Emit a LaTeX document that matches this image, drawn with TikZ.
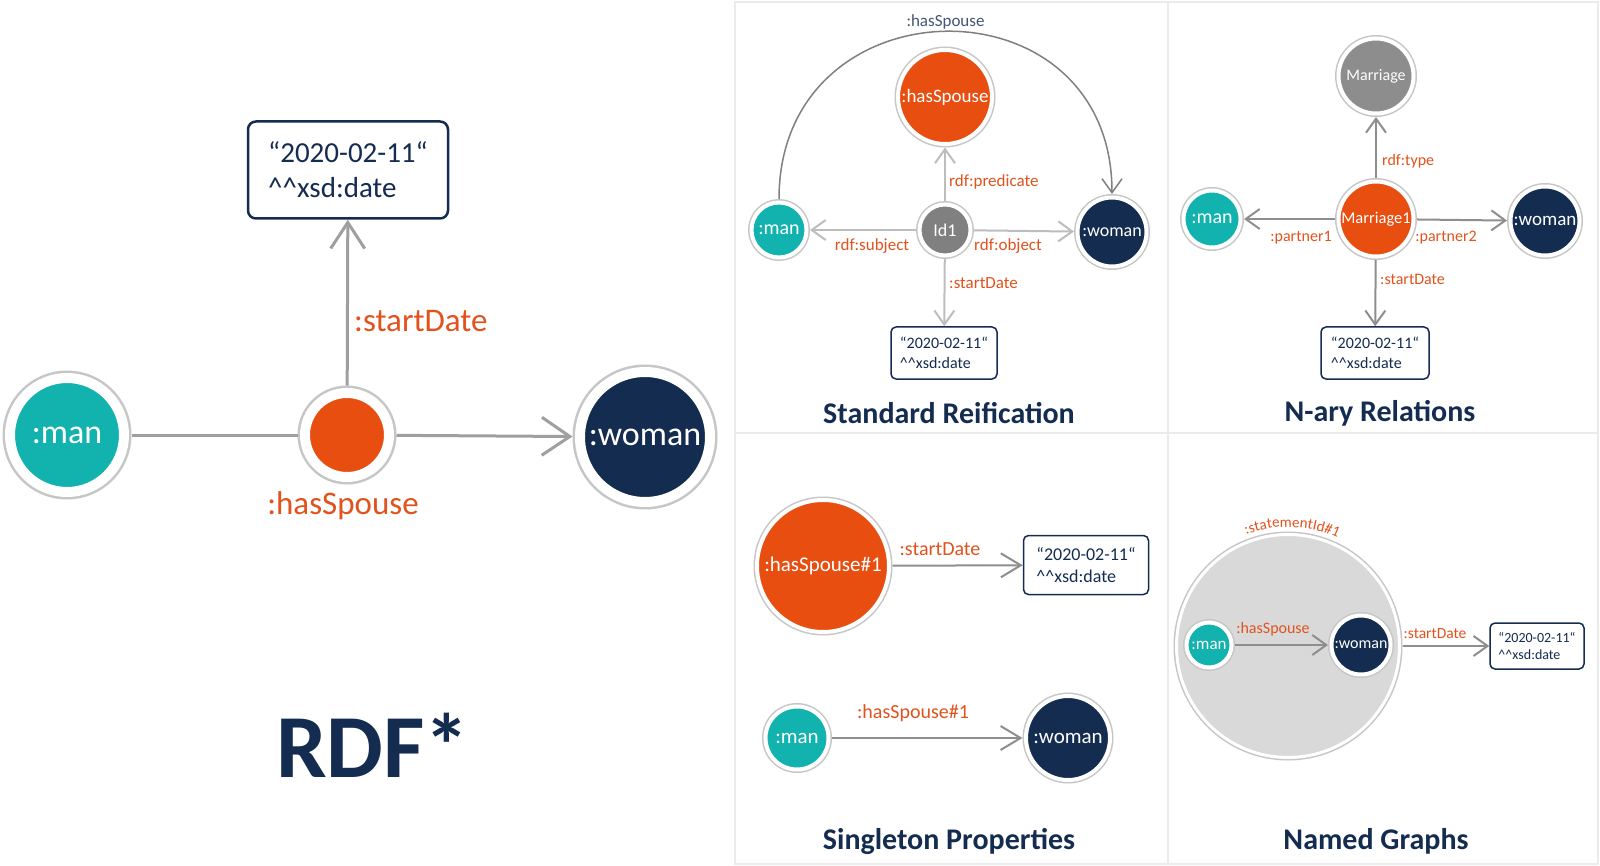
\documentclass[tikz,border=0pt]{standalone}
\usepackage{fontspec}
\setmainfont{Carlito}
\usetikzlibrary{arrows.meta,decorations.text}
\definecolor{rdfteal}{HTML}{12B2AE}
\definecolor{rdforange}{HTML}{E84E10}
\definecolor{rdfnavy}{HTML}{142C50}
\definecolor{lblorange}{HTML}{E2521D}
\definecolor{nodegray}{HTML}{808080}
\definecolor{ringgray}{HTML}{C6C6C6}
\definecolor{linegray}{HTML}{8E8E8E}
\definecolor{lightline}{HTML}{BDBDBD}
\definecolor{graphgray}{HTML}{D9D9D9}
\definecolor{panelgray}{HTML}{EBEBEB}
\newcommand{\px}[2]{\fontsize{#1}{#2}\selectfont}
\newcommand{\xsddate}{\textasciicircum\textasciicircum xsd:date}

\begin{document}
\begin{tikzpicture}[x=1pt, y=-1pt,
    res/.style={circle, inner sep=0pt, text=white, draw=white, line width=4pt, outer sep=3.5pt, preaction={draw=ringgray, line width=7pt}},
    bigres/.style={circle, inner sep=0pt, text=white, draw=white, line width=10pt, outer sep=7.5pt, preaction={draw=ringgray, line width=15pt}},
    lit/.style={draw=rdfnavy, fill=white, rounded corners=5pt, line width=1.5pt, align=left, text=rdfnavy, inner sep=0pt},
    lbl/.style={text=lblorange, inner sep=0pt},
    conn/.style={draw=linegray, line width=2pt},
    arr/.style={-{Straight Barb[length=14pt, width=20pt]}},
    paneltitle/.style={text=rdfnavy, font=\px{30}{30}\bfseries},
  ]
  \useasboundingbox[fill=white] (0,0) rectangle (1600,866);
  \draw[panelgray, line width=1.5pt] (735,2) rectangle (1598,864);
  \draw[panelgray, line width=1.5pt] (1168,2) -- (1168,864);
  \draw[panelgray, line width=1.5pt] (735,433) -- (1598,433);

  % RDF*
  \node[bigres, fill=rdfteal, minimum size=114pt, font=\px{34}{34}] (lman) at (67,435) {:man};
  \node[bigres, fill=rdforange, minimum size=84pt] (lhs) at (347,435) {};
  \node[bigres, fill=rdfnavy, minimum size=130pt, font=\px{34}{34}] (lwoman) at (645,437) {:woman};
  \node[lit, line width=2.5pt, rounded corners=8pt, minimum width=200pt, minimum height=97pt, font=\px{29}{35}] (ldate) at (348,170) {“2020-02-11“\\\xsddate};
  \node[lbl, anchor=west, font=\px{33}{33}] (lstart) at (354,321) {:startDate};
  \node[lbl, font=\px{33}{33}] (lhslbl) at (343,506) {:hasSpouse};
  \node[text=rdfnavy, font=\px{90}{90}\bfseries] (rdfstar) at (373,745) {RDF*};
  \draw[conn, draw=linegray!85, line width=3pt] (lman) -- (lhs);
  \draw[conn, draw=linegray!85, line width=3pt, -{Straight Barb[length=28pt, width=38pt]}] (lhs) -- (lwoman);
  \draw[conn, draw=linegray!85, line width=3pt, -{Straight Barb[length=26pt, width=34pt]}] (lhs) -- (ldate);

  % Standard Reification
  \node[res, fill=rdfteal, minimum size=55pt, font=\px{20}{20}] (sman) at (779,230) {:man};
  \node[res, fill=nodegray, minimum size=51pt, font=\px{18}{18}] (sid) at (945,230) {Id1};
  \node[res, fill=rdfnavy, minimum size=69pt, font=\px{18}{18}] (swoman) at (1112,232) {:woman};
  \node[res, fill=rdforange, minimum size=94pt, font=\px{19}{19}] (shs) at (945,97) {:hasSpouse};
  \node[lit, minimum width=106pt, minimum height=52pt, font=\px{16}{20}] (sdate) at (944,353) {“2020-02-11“\\\xsddate};
  \node[lbl, anchor=west, font=\px{17}{17}] (spred) at (949,182) {rdf:predicate};
  \node[lbl, font=\px{17}{17}] (ssubj) at (872,246) {rdf:subject};
  \node[lbl, font=\px{17}{17}] (sobj) at (1008,246) {rdf:object};
  \node[lbl, anchor=west, font=\px{17}{17}] (sstart) at (949,283) {:startDate};
  \draw[conn, draw=lightline, arr] (sid) -- (shs);
  \draw[conn, draw=lightline, arr] (sid) -- (sman);
  \draw[conn, draw=lightline, arr] (sid) -- (swoman);
  \draw[conn, draw=lightline, arr] (sid) -- (sdate);
  \draw[conn, draw=linegray!90!black, line width=1.5pt, arr] (sman.north) .. controls +(0,-220) and +(0,-220) .. (swoman.north)
    node[pos=.5, above=2pt, text=rdfnavy!80, font=\px{17}{17}, inner sep=0pt] (sarclbl) {:hasSpouse};
  \node[paneltitle] (stitle) at (949,413) {Standard Reification};

  % N-ary Relations
  \node[res, fill=nodegray!90, minimum size=75pt, font=\px{16}{16}] (nclass) at (1376,76) {Marriage};
  \node[res, fill=rdforange, minimum size=75pt, font=\px{16.5}{16.5}] (nm1) at (1376,219) {Marriage1};
  \node[res, fill=rdfteal, minimum size=57pt, font=\px{20}{20}] (nman) at (1212,219) {:man};
  \node[res, fill=rdfnavy, minimum size=69pt, font=\px{19}{19}] (nwoman) at (1545,221) {:woman};
  \node[lit, minimum width=108pt, minimum height=52pt, font=\px{16}{20}] (ndate) at (1375,353) {“2020-02-11“\\\xsddate};
  \node[lbl, anchor=west, font=\px{16}{16}] (ntype) at (1382,161) {rdf:type};
  \node[lbl, font=\px{16}{16}] (np1) at (1301,238) {:partner1};
  \node[lbl, font=\px{16}{16}] (np2) at (1446,238) {:partner2};
  \node[lbl, anchor=west, font=\px{16}{16}] (nstart) at (1380,279) {:startDate};
  \draw[conn, arr] (nm1) -- (nclass);
  \draw[conn, arr] (nm1) -- (nman);
  \draw[conn, arr] (nm1) -- (nwoman);
  \draw[conn, arr] (nm1) -- (ndate);
  \node[paneltitle] (ntitle) at (1380,413) {N-ary Relations};

  % Singleton Properties
  \node[res, fill=rdforange, minimum size=132pt, font=\px{21}{21}] (ghs) at (823,566) {:hasSpouse\#1};
  \node[lit, minimum width=125pt, minimum height=59pt, font=\px{18}{22}] (gdate) at (1086,565) {“2020-02-11“\\\xsddate};
  \node[lbl, font=\px{20}{20}] (gstart) at (940,549) {:startDate};
  \node[res, fill=rdfteal, minimum size=63pt, font=\px{21}{21}] (gman) at (797,738) {:man};
  \node[res, fill=rdfnavy, minimum size=84pt, font=\px{21}{21}] (gwoman) at (1068,738) {:woman};
  \node[lbl, font=\px{20}{20}] (ghslbl) at (913,713) {:hasSpouse\#1};
  \draw[conn, -{Straight Barb[length=20pt, width=24pt]}] (ghs) -- (gdate);
  \draw[conn, -{Straight Barb[length=20pt, width=24pt]}] (gman) -- (gwoman);
  \node[paneltitle] (gtitle) at (949,841) {Singleton Properties};

  % Named Graphs
  \node[circle, inner sep=0pt, fill=graphgray, draw=white, line width=3pt, outer sep=3pt, preaction={draw=ringgray, line width=6pt}, minimum size=223pt] (qgraph) at (1288,646) {};
  \path[decorate, decoration={text along path, text align=center, text color=lblorange, text={|\px{15}{15}|:statementId{\#}1}}]
    (qgraph.center) ++(228:119) arc[start angle=228, end angle=316, radius=119];
  \node[res, fill=rdfteal, minimum size=45pt, font=\px{17}{17}] (qman) at (1209,645) {:man};
  \node[res, fill=rdfnavy, minimum size=59pt, font=\px{16}{16}] (qwoman) at (1361,645) {:woman};
  \node[lbl, font=\px{16}{16}] (qhslbl) at (1273,629) {:hasSpouse};
  \node[lbl, font=\px{15.5}{15.5}] (qstart) at (1435,634) {:startDate};
  \node[lit, minimum width=94pt, minimum height=46pt, font=\px{14}{17}] (qdate) at (1537,646) {“2020-02-11“\\\xsddate};
  \draw[conn, arr] (qman) -- (qwoman);
  \draw[conn, arr] (qgraph) -- (qdate);
  \node[paneltitle] (qtitle) at (1376,841) {Named Graphs};
\end{tikzpicture}
\end{document}
